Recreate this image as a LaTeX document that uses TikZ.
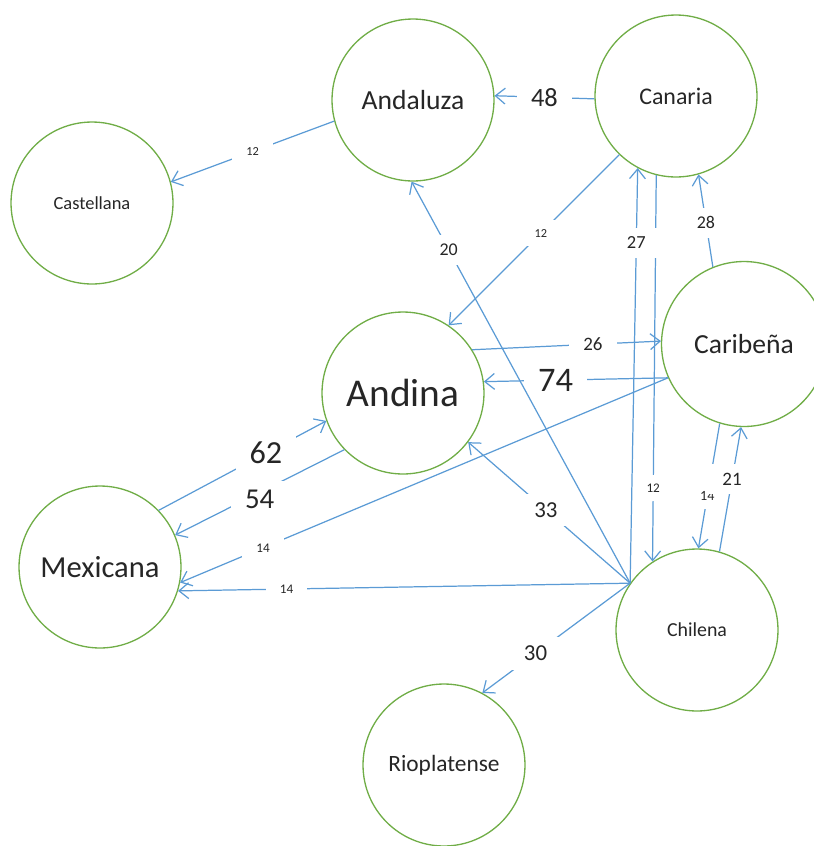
\documentclass[tikz,border=0pt]{standalone}
\usepackage{fontspec}
\setmainfont{Carlito}
\usetikzlibrary{arrows.meta}
\usepackage{xcolor}
\definecolor{circgreen}{RGB}{112,173,71}
\definecolor{edgeblue}{RGB}{91,155,213}
\newcommand{\fsz}[1]{\fontsize{#1}{#1}\selectfont}

\begin{document}
\begin{tikzpicture}[
x=0.02cm, y=-0.02cm,
circ/.style={draw=circgreen,
line width=0.75pt,
circle,
inner sep=0pt,
minimum size=3.24cm,
text=black!85},
arrow/.style={-{Straight Barb[length=5.5pt, width=9pt]}, draw=edgeblue, line width=0.7pt},
lbl/.style={fill=white, inner xsep=8pt, inner ysep=5pt, text=black!85}
]
\useasboundingbox (0,0) rectangle (814,846);

\node[circ, font=\fsz{15.7pt}] (andaluza) at (413,100) {Andaluza};
\node[circ, font=\fsz{13.6pt}] (canaria) at (676,96) {Canaria};
\node[circ, font=\fsz{10.5pt}] (castellana) at (92,203) {Castellana};
\node[circ, font=\fsz{22.4pt}] (andina) at (403,393) {Andina};
\node[circ, font=\fsz{15.7pt}, minimum size=3.3cm] (caribena) at (744,344) {Caribeña};
\node[circ, font=\fsz{17.4pt}] (mexicana) at (100,567) {Mexicana};
\node[circ, font=\fsz{11.3pt}] (chilena) at (697,630) {Chilena};
\node[circ, font=\fsz{13.3pt}] (rioplatense) at (444,765) {Rioplatense};

% edges whose labels sit under crossing lines come first
\draw[arrow] (caribena.204) -- node[lbl, pos=0.61, font=\fsz{19.6pt}] {74} (andina.8);
\draw[arrow] (canaria.256) -- node[lbl, pos=0.81, font=\fsz{7.5pt}] {12} (chilena.123);
\draw[arrow] (andaluza.195) -- node[lbl, pos=0.5, font=\fsz{7pt}] {12} (castellana.15);
\draw[arrow] (canaria.182) -- node[lbl, pos=0.5, font=\fsz{15pt}] {48} (andaluza.3);
\draw[arrow] (canaria.226) -- node[lbl, pos=0.46, font=\fsz{7pt}] {12} (andina.56);
\draw[arrow] (chilena.145) -- node[lbl, pos=0.83, font=\fsz{10.2pt}] {20} (andaluza.269);
\draw[arrow] (chilena.145) -- node[lbl, pos=0.82, font=\fsz{10.5pt}] {27} (canaria.242);
\draw[arrow] (caribena.112) -- node[lbl, pos=0.48, font=\fsz{10.2pt}] {28} (canaria.286);
\draw[arrow] (andina.32) -- node[lbl, pos=0.64, font=\fsz{10.8pt}] {26} (caribena.178);
\draw[arrow] (caribena.204) -- node[lbl, pos=0.83, font=\fsz{7.5pt}] {14} (mexicana.349);
\draw[arrow] (mexicana.44) -- node[lbl, pos=0.64, font=\fsz{18.3pt}] {62} (andina.200);
\draw[arrow] (andina.224) -- node[lbl, pos=0.5, yshift=-4pt, font=\fsz{16.4pt}] {54} (mexicana.23);
\draw[arrow] (chilena.145) -- node[lbl, pos=0.52, font=\fsz{13pt}] {33} (andina.323);
\draw[arrow] (chilena.145) -- node[lbl, pos=0.76, font=\fsz{7.5pt}] {14} (mexicana.343);
\draw[arrow] (chilena.145) -- node[lbl, pos=0.64, font=\fsz{13pt}] {30} (rioplatense.62);
\draw[arrow] (caribena.253) -- node[lbl, pos=0.58, font=\fsz{8pt}] {14} (chilena.89);
\draw[arrow] (chilena.74) -- node[lbl, pos=0.58, font=\fsz{10.8pt}] {21} (caribena.268);

\end{tikzpicture}
\end{document}
